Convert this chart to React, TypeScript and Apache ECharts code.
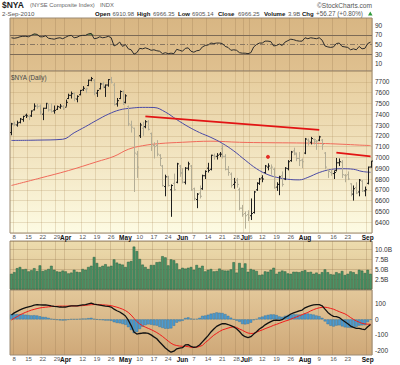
import React, { useEffect, useRef } from 'react';
import * as echarts from 'echarts';

// ---------- dates ----------
const MAR_DAYS = [5, 8, 9, 10, 11, 12, 15, 16, 17, 18, 19, 22, 23, 24, 25, 26, 29, 30, 31];
const APR_DAYS = [1, 5, 6, 7, 8, 9, 12, 13, 14, 15, 16, 19, 20, 21, 22, 23, 26, 27, 28, 29, 30];
const MAY_DAYS = [3, 4, 5, 6, 7, 10, 11, 12, 13, 14, 17, 18, 19, 20, 21, 24, 25, 26, 27, 28];
const JUN_DAYS = [1, 2, 3, 4, 7, 8, 9, 10, 11, 14, 15, 16, 17, 18, 21, 22, 23, 24, 25, 28, 29, 30];
const JUL_DAYS = [1, 2, 6, 7, 8, 9, 12, 13, 14, 15, 16, 19, 20, 21, 22, 23, 26, 27, 28, 29, 30];
const AUG_DAYS = [2, 3, 4, 5, 6, 9, 10, 11, 12, 13, 16, 17, 18, 19, 20, 23, 24, 25, 26, 27, 30, 31];
const SEP_DAYS = [1, 2];

const CATEGORIES: string[] = [
  ...MAR_DAYS.map((d) => 'Mar ' + d),
  ...APR_DAYS.map((d) => 'Apr ' + d),
  ...MAY_DAYS.map((d) => 'May ' + d),
  ...JUN_DAYS.map((d) => 'Jun ' + d),
  ...JUL_DAYS.map((d) => 'Jul ' + d),
  ...AUG_DAYS.map((d) => 'Aug ' + d),
  ...SEP_DAYS.map((d) => 'Sep ' + d),
];

const TICK_DATES = ['Mar 8', 'Mar 15', 'Mar 22', 'Mar 29', 'Apr 1', 'Apr 12', 'Apr 19', 'Apr 26', 'May 3', 'May 10', 'May 17', 'May 24', 'Jun 1', 'Jun 7', 'Jun 14', 'Jun 21', 'Jun 28', 'Jul 1', 'Jul 6', 'Jul 12', 'Jul 19', 'Jul 26', 'Aug 2', 'Aug 9', 'Aug 16', 'Aug 23', 'Sep 1'];
const TICK_TEXT = ['8', '15', '22', '29', 'Apr', '12', '19', '26', 'May', '10', '17', '24', 'Jun', '7', '14', '21', '28', 'Jul', '6', '12', '19', '26', 'Aug', '9', '16', '23', 'Sep'];

// ---------- price (OHLC) ----------
const OPEN = [7230, 7310, 7300, 7325, 7350, 7390, 7380, 7385, 7440, 7475, 7475, 7400, 7455, 7495, 7440, 7430, 7445, 7465, 7470, 7465,
  7545, 7575, 7590, 7540, 7580, 7625, 7630, 7665, 7715, 7715, 7595, 7635, 7680, 7650, 7670, 7720, 7670, 7495, 7545, 7610,
  7510, 7470, 7300, 7270, 7030, 7200, 7270, 7285, 7330, 7220, 7110, 7110, 7020, 6920, 6730, 6820, 6700, 6760, 6770, 6920,
  6850, 6770, 6900, 6920, 6710, 6610, 6670, 6710, 6830, 6900, 6890, 7015, 7010, 7030, 7080, 7010, 6890, 6845, 6750, 6790,
  6700, 6530, 6480, 6470, 6460, 6490, 6700, 6760, 6810, 6860, 6910, 6900, 6890, 6725, 6750, 6830, 6800, 6895, 6970, 7060,
  7030, 6990, 6975, 7040, 7160, 7140, 7165, 7150, 7160, 7160, 7040, 6880, 6860, 6850, 6880, 6950, 6955, 6835, 6840, 6755,
  6660, 6720, 6680, 6780, 6690, 6760, 6911];
const HIGH = [7320, 7330, 7340, 7365, 7385, 7405, 7390, 7435, 7500, 7495, 7490, 7460, 7505, 7495, 7500, 7480, 7480, 7495, 7485, 7535,
  7590, 7610, 7600, 7575, 7625, 7660, 7645, 7720, 7745, 7725, 7625, 7690, 7700, 7675, 7725, 7745, 7690, 7550, 7620, 7620,
  7585, 7480, 7340, 7275, 7060, 7320, 7330, 7345, 7345, 7230, 7140, 7160, 7030, 6930, 6840, 6830, 6750, 6850, 6950, 6930,
  6900, 6910, 6960, 6930, 6720, 6670, 6740, 6840, 6880, 6950, 7025, 7035, 7040, 7050, 7120, 7030, 6920, 6860, 6810, 6810,
  6720, 6560, 6500, 6510, 6620, 6690, 6770, 6810, 6835, 6930, 6945, 6935, 6905, 6770, 6830, 6870, 6910, 6975, 7060, 7090,
  7045, 7050, 6990, 7180, 7175, 7190, 7175, 7160, 7200, 7170, 7050, 6890, 6890, 6880, 6995, 6990, 6975, 6845, 6870, 6760,
  6740, 6770, 6800, 6790, 6730, 6915, 6966];
const LOW = [7205, 7290, 7285, 7315, 7330, 7365, 7345, 7375, 7435, 7450, 7395, 7345, 7450, 7425, 7415, 7405, 7440, 7450, 7440, 7470,
  7540, 7545, 7520, 7510, 7575, 7615, 7595, 7660, 7705, 7575, 7560, 7630, 7640, 7560, 7655, 7685, 7480, 7470, 7540, 7485,
  7500, 7290, 7230, 6680, 6810, 7180, 7200, 7270, 7250, 7060, 6990, 7010, 6920, 6730, 6640, 6730, 6450, 6690, 6760, 6820,
  6760, 6750, 6880, 6690, 6600, 6530, 6620, 6700, 6800, 6860, 6880, 6980, 6980, 7005, 6990, 6880, 6830, 6720, 6710, 6720,
  6510, 6450, 6340, 6410, 6420, 6480, 6690, 6745, 6770, 6850, 6880, 6840, 6710, 6690, 6650, 6730, 6790, 6880, 6960, 7020,
  6965, 6920, 6900, 7030, 7110, 7120, 7120, 7070, 7150, 7070, 6890, 6810, 6830, 6800, 6870, 6920, 6810, 6770, 6790, 6640,
  6600, 6660, 6640, 6680, 6640, 6750, 6905];
const CLOSE = [7310, 7305, 7320, 7355, 7380, 7385, 7380, 7430, 7475, 7470, 7420, 7455, 7500, 7440, 7425, 7435, 7470, 7475, 7450, 7510,
  7575, 7590, 7545, 7565, 7620, 7640, 7635, 7715, 7730, 7600, 7620, 7680, 7660, 7670, 7720, 7695, 7490, 7525, 7610, 7495,
  7570, 7310, 7280, 7040, 6910, 7300, 7280, 7330, 7260, 7120, 7100, 7030, 6990, 6740, 6820, 6740, 6740, 6700, 6940, 6860,
  6770, 6900, 6940, 6700, 6620, 6660, 6640, 6830, 6870, 6880, 7020, 7010, 7020, 7030, 7010, 6890, 6860, 6740, 6770, 6750,
  6530, 6470, 6460, 6440, 6480, 6680, 6760, 6800, 6800, 6920, 6920, 6910, 6720, 6750, 6820, 6750, 6900, 6960, 7050, 7040,
  6990, 6970, 6960, 7170, 7150, 7175, 7165, 7150, 7190, 7120, 6910, 6870, 6850, 6860, 6950, 6960, 6840, 6830, 6800, 6690,
  6710, 6670, 6790, 6690, 6700, 6910, 6966];

// moving averages, read at sample bars
const MA50_AT = [0, 9, 18, 22, 26, 30, 34, 38, 42, 46, 50, 54, 58, 62, 66, 70, 74, 78, 82, 86, 90, 94, 98, 101, 104, 108, 112, 116, 120, 123, 126];
const MA50 = [7157, 7160, 7168, 7228, 7285, 7345, 7400, 7440, 7456, 7463, 7462, 7420, 7350, 7285, 7230, 7185, 7130, 7060, 6975, 6895, 6840, 6810, 6795, 6792, 6815, 6860, 6888, 6895, 6890, 6870, 6862];
const MA200_AT = [0, 10, 20, 30, 36, 41, 46, 52, 60, 70, 80, 90, 100, 108, 116, 122, 126];
const MA200 = [6740, 6808, 6878, 6960, 7010, 7075, 7108, 7128, 7140, 7150, 7140, 7136, 7134, 7130, 7122, 7114, 7110];

// hand-drawn annotations
const TREND_1 = [[47, 7380], [108, 7255]];
const TREND_2 = [[114, 7045], [126, 7010]];
const DOT = [[90, 7005]];

// ---------- indicators ----------
const RSI = [64, 63, 64, 66, 67, 67, 66, 69, 72, 71, 66, 66, 68, 63, 62, 61, 63, 64, 62, 65,
  68, 69, 64, 65, 68, 69, 69, 72, 73, 62, 63, 66, 64, 65, 67, 64, 47, 50, 55, 46,
  50, 41, 39, 30, 33, 42, 41, 43, 41, 38, 39, 37, 36, 31, 33, 31, 32, 31, 40, 38,
  36, 42, 43, 36, 34, 37, 38, 45, 48, 49, 53, 52, 53, 53, 52, 46, 44, 38, 39, 38,
  33, 32, 32, 31, 33, 45, 50, 53, 53, 57, 57, 56, 47, 48, 51, 48, 55, 58, 61, 60,
  58, 57, 57, 64, 62, 64, 63, 62, 64, 59, 47, 45, 44, 45, 52, 53, 46, 45, 44, 39,
  41, 39, 46, 41, 42, 52, 55];
const RSI_LEVELS = [70, 50, 30];

const VOLUME = [3.9, 4.3, 5.3, 5.6, 5.0, 5.1, 4.5, 4.8, 5.3, 4.6, 6.0, 4.6, 4.8, 5.1, 5.9, 4.9, 4.5, 4.4, 4.7,
  4.5, 4.0, 4.2, 4.9, 4.4, 4.3, 5.1, 4.9, 5.6, 5.9, 8.1, 6.6, 5.6, 5.9, 6.3, 5.7, 5.9, 7.5, 6.7, 6.4, 6.2,
  5.6, 6.9, 7.1, 10.7, 9.6, 7.6, 6.2, 5.6, 5.1, 6.1, 6.1, 6.8, 6.9, 8.3, 8.0, 6.0, 7.5, 7.3, 6.5, 5.0,
  5.4, 5.2, 5.4, 5.6, 4.9, 6.1, 5.4, 5.9, 4.5, 4.9, 5.1, 4.5, 4.6, 5.2, 4.8, 4.7, 4.7, 5.0, 6.8, 4.2, 6.6, 5.4,
  6.5, 4.4, 5.1, 4.9, 4.6, 3.6, 3.7, 4.5, 4.4, 4.9, 5.4, 3.9, 4.4, 4.7, 4.5, 4.0, 3.9, 4.4, 4.4, 4.3, 4.6,
  4.8, 4.3, 4.4, 3.9, 4.2, 3.8, 4.3, 5.0, 4.3, 3.8, 3.7, 4.3, 4.0, 4.6, 3.6, 3.9, 4.5, 4.3, 3.8, 4.9, 4.7, 4.1,
  4.9, 3.9];

const MACD = [29, 42, 52, 62, 70, 76, 81, 86, 92, 95, 94, 93, 94, 91, 87, 84, 82, 80, 79, 80,
  84, 88, 88, 88, 91, 94, 96, 101, 105, 99, 95, 92, 89, 86, 84, 80, 66, 56, 48, 36,
  22, -5, -40, -81, -95, -91, -88, -87, -90, -100, -113, -125, -146, -165, -185, -200, -212, -205, -190, -185,
  -183, -165, -163, -175, -180, -177, -165, -145, -125, -105, -81, -62, -45, -35, -27, -28, -33, -40, -48, -60,
  -78, -100, -112, -117, -112, -95, -80, -62, -50, -35, -24, -14, -6, -4, -6, -2, 12, 22, 35, 42,
  48, 55, 60, 75, 83, 89, 94, 95, 96, 88, 66, 45, 30, 20, 18, 12, -2, -15, -28, -43,
  -52, -58, -58, -63, -66, -48, -33];
const SIGNAL = [-4, 8, 18, 29, 38, 46, 53, 60, 65, 70, 74, 77, 79, 81, 83, 84, 85, 86, 86, 86,
  86, 87, 87, 87, 88, 89, 91, 93, 95, 96, 96, 95, 94, 93, 91, 89, 84, 79, 73, 66,
  57, 45, 28, 7, -14, -29, -41, -50, -58, -66, -75, -85, -97, -110, -125, -140, -154, -164, -169, -172,
  -174, -174, -176, -180, -182, -180, -175, -168, -150, -135, -118, -102, -90, -78, -68, -62, -56, -51, -48, -52,
  -62, -70, -80, -88, -91, -90, -82, -75, -68, -60, -53, -46, -38, -32, -25, -18, -11, -6, 2, 9,
  16, 24, 31, 38, 45, 55, 63, 70, 75, 78, 79, 76, 71, 66, 58, 50, 43, 36, 25, 12,
  0, -10, -18, -25, -29, -31, -31];
const HIST = [33, 34, 34, 33, 32, 30, 28, 26, 27, 25, 20, 16, 15, 10, 4, 0, -3, -6, -7, -6,
  -2, 1, 1, 1, 3, 5, 5, 8, 10, 3, -1, -3, -5, -7, -7, -9, -18, -23, -25, -30,
  -35, -50, -68, -88, -81, -62, -47, -37, -32, -34, -38, -40, -49, -55, -60, -60, -58, -41, -21, -13,
  -9, 9, 13, 5, 2, 3, 10, 23, 25, 30, 37, 40, 45, 43, 41, 34, 23, 11, 0, -8,
  -16, -30, -32, -29, -21, -5, 2, 13, 18, 25, 29, 32, 32, 28, 19, 16, 23, 28, 33, 33,
  32, 31, 29, 37, 38, 34, 31, 25, 21, 10, -13, -31, -41, -46, -40, -38, -45, -51, -53, -55,
  -52, -48, -40, -38, -37, -17, -2];

// ---------- axis label sets ----------
const RSI_LABELS = [10, 30, 50, 70, 90];
const PRICE_LABELS = [6400, 6500, 6600, 6700, 6800, 6900, 7000, 7100, 7200, 7300, 7400, 7500, 7600, 7700];
const VOLUME_LABELS = [2.5, 5, 7.5, 10];
const MACD_LABELS = [-200, -100, 0, 100];

const FONT = 'Liberation Sans, Arial, sans-serif';

export default function App() {
  const ref = useRef<HTMLDivElement>(null);

  useEffect(() => {
    if (!ref.current) return;
    const chart = echarts.init(ref.current, undefined, { renderer: 'svg' });

    const grad = (a: string, b: string) =>
      new echarts.graphic.LinearGradient(0, 0, 0, 1, [
        { offset: 0, color: a },
        { offset: 1, color: b },
      ]);

    const tickSet = new Set(TICK_DATES);

    const xAxes = [0, 1, 2, 3].map((k) => ({
      type: 'category',
      gridIndex: k,
      data: CATEGORIES,
      boundaryGap: true,
      axisLine: { show: false },
      axisTick: { show: false },
      axisLabel: {
        show: k === 1 || k === 3,
        interval: (_i: number, v: string) => tickSet.has(v),
        margin: 1,
        formatter: (v: string) => {
          const t = TICK_TEXT[TICK_DATES.indexOf(v)] || '';
          return /^[A-Z]/.test(t) ? '{m|' + t + '}' : '{d|' + t + '}';
        },
        rich: {
          m: { fontFamily: FONT, fontSize: 6.5, fontWeight: 'bold', color: '#111' },
          d: { fontFamily: FONT, fontSize: 6, color: '#555' },
        },
      },
      splitLine: {
        show: true,
        interval: (_i: number, v: string) => tickSet.has(v),
        lineStyle: { color: k === 1 ? 'rgba(170,140,90,0.25)' : 'rgba(150,120,80,0.28)', width: 1 },
      },
    }));

    const yLabel = (allowed: number[], fmt: (v: number) => string) => ({
      show: true,
      fontFamily: FONT,
      fontSize: 6.5,
      color: '#333',
      margin: 3,
      formatter: (v: number) => (allowed.some((a) => Math.abs(a - v) < 1e-6) ? fmt(v) : ''),
    });

    const option: any = {
      animation: false,
      backgroundColor: '#ffffff',
      textStyle: { fontFamily: FONT },
      grid: [
        { left: 10, right: 28, top: 18, height: 53, show: true, backgroundColor: grad('#d8b683', '#dfc08f'), borderColor: '#9c8a72', borderWidth: 1 },
        { left: 10, right: 28, top: 71, height: 162, show: true, backgroundColor: grad('#e6cc9c', '#fdfbe3'), borderColor: '#9c8a72', borderWidth: 1 },
        { left: 10, right: 28, top: 241, height: 48.4, show: true, backgroundColor: grad('#eddcae', '#dcc090'), borderColor: '#9c8a72', borderWidth: 1 },
        { left: 10, right: 28, top: 290, height: 65, show: true, backgroundColor: grad('#e3c89a', '#cfa878'), borderColor: '#9c8a72', borderWidth: 1 },
      ],
      xAxis: xAxes,
      yAxis: [
        {
          type: 'value', gridIndex: 0, position: 'right', min: -5, max: 105, interval: 5,
          axisLine: { show: false }, axisTick: { show: false }, splitLine: { show: false },
          axisLabel: yLabel(RSI_LABELS, (v) => String(v)),
        },
        {
          type: 'value', gridIndex: 1, position: 'right', min: 6300, max: 7800, interval: 100,
          axisLine: { show: false }, axisTick: { show: false },
          splitLine: { show: true, lineStyle: { color: 'rgba(170,140,90,0.25)', width: 1 } },
          axisLabel: yLabel(PRICE_LABELS, (v) => String(v)),
        },
        {
          type: 'value', gridIndex: 2, position: 'right', min: 0, max: 12.1, interval: 2.5,
          axisLine: { show: false }, axisTick: { show: false },
          splitLine: { show: true, lineStyle: { color: 'rgba(150,120,80,0.3)', width: 1 } },
          axisLabel: yLabel(VOLUME_LABELS, (v) => v.toFixed(1) + 'B'),
        },
        {
          type: 'value', gridIndex: 3, position: 'right', min: -230, max: 190, interval: 10,
          axisLine: { show: false }, axisTick: { show: false }, splitLine: { show: false },
          axisLabel: yLabel(MACD_LABELS, (v) => String(v)),
        },
      ],
      series: [
        // RSI overbought shading (stacked above the 70 line)
        {
          type: 'line', xAxisIndex: 0, yAxisIndex: 0, stack: 'ob', silent: true, symbol: 'none',
          data: RSI.map(() => 70), lineStyle: { opacity: 0 },
        },
        {
          type: 'line', xAxisIndex: 0, yAxisIndex: 0, stack: 'ob', silent: true, symbol: 'none',
          data: RSI.map((v) => Math.max(v - 70, 0)), lineStyle: { opacity: 0 },
          areaStyle: { color: '#4e8a3a', opacity: 1 },
        },
        {
          type: 'line', xAxisIndex: 0, yAxisIndex: 0, symbol: 'none', data: RSI, silent: true,
          lineStyle: { color: '#2b2b2b', width: 1 },
          markLine: {
            silent: true, symbol: ['none', 'none'], label: { show: false },
            data: RSI_LEVELS.map((lv) => ({
              yAxis: lv,
              lineStyle: lv === 50
                ? { color: '#8a7862', width: 1, type: [5, 2, 1, 2] }
                : { color: '#7d6b56', width: 1, type: 'solid' },
            })),
          },
          z: 5,
        },
        // price panel
        {
          type: 'line', xAxisIndex: 1, yAxisIndex: 1, symbol: 'none', smooth: 0.4, silent: true,
          data: MA200_AT.map((i, k) => [i, MA200[k]]),
          lineStyle: { color: '#f06a5a', width: 1 },
        },
        {
          type: 'line', xAxisIndex: 1, yAxisIndex: 1, symbol: 'none', smooth: 0.4, silent: true,
          data: MA50_AT.map((i, k) => [i, MA50[k]]),
          lineStyle: { color: '#4a4aa6', width: 1 },
        },
        {
          type: 'custom', xAxisIndex: 1, yAxisIndex: 1, silent: true,
          data: CLOSE.map((c, i) => [i, OPEN[i], HIGH[i], LOW[i], c, i === 0 || c >= CLOSE[i - 1] ? 1 : 0]),
          encode: { x: 0, y: [1, 2, 3, 4] },
          renderItem: (_p: any, api: any) => {
            const i = api.value(0);
            const ph = api.coord([i, api.value(2)]);
            const pl = api.coord([i, api.value(3)]);
            const po = api.coord([i, api.value(1)]);
            const pc = api.coord([i, api.value(4)]);
            const x = Math.round(ph[0]) + 0.5;
            const color = api.value(5) ? '#1e1e1e' : '#b3ad96';
            const st = { stroke: color, lineWidth: 1 };
            return {
              type: 'group',
              children: [
                { type: 'line', shape: { x1: x, y1: ph[1], x2: x, y2: pl[1] }, style: st },
                { type: 'line', shape: { x1: x - 1.5, y1: po[1], x2: x, y2: po[1] }, style: st },
                { type: 'line', shape: { x1: x, y1: pc[1], x2: x + 1.5, y2: pc[1] }, style: st },
              ],
            };
          },
          z: 4,
        },
        {
          type: 'line', xAxisIndex: 1, yAxisIndex: 1, symbol: 'none', silent: true, data: TREND_1,
          lineStyle: { color: '#e21414', width: 1.8 }, z: 6,
        },
        {
          type: 'line', xAxisIndex: 1, yAxisIndex: 1, symbol: 'none', silent: true, data: TREND_2,
          lineStyle: { color: '#e21414', width: 1.8 }, z: 6,
        },
        {
          type: 'scatter', xAxisIndex: 1, yAxisIndex: 1, symbolSize: 4, silent: true, data: DOT,
          itemStyle: { color: '#e20000' }, z: 6,
        },
        // volume
        {
          type: 'bar', xAxisIndex: 2, yAxisIndex: 2, data: VOLUME, barCategoryGap: '8%', silent: true,
          itemStyle: { color: '#4a9467', borderColor: '#2b5d3e', borderWidth: 0.5 },
        },
        // MACD
        {
          type: 'bar', xAxisIndex: 3, yAxisIndex: 3, data: HIST, barCategoryGap: '8%', silent: true,
          itemStyle: { color: '#4d9cd2', borderColor: '#2b6c99', borderWidth: 0.4 },
        },
        {
          type: 'line', xAxisIndex: 3, yAxisIndex: 3, symbol: 'none', data: SIGNAL, silent: true,
          lineStyle: { color: '#f21c1c', width: 1 },
        },
        {
          type: 'line', xAxisIndex: 3, yAxisIndex: 3, symbol: 'none', data: MACD, silent: true,
          lineStyle: { color: '#111111', width: 1.3 },
        },
      ],
      graphic: [
        { type: 'text', x: 2, y: 5, style: { text: '$NYA', fontFamily: FONT, fontSize: 8.5, fontWeight: 'bold', fill: '#222', verticalAlign: 'middle' } },
        { type: 'text', x: 30, y: 5, style: { text: '(NYSE Composite Index)', fontFamily: FONT, fontSize: 5.8, fill: '#666', verticalAlign: 'middle' } },
        { type: 'text', x: 100, y: 5, style: { text: 'INDX', fontFamily: FONT, fontSize: 5.8, fill: '#666', verticalAlign: 'middle' } },
        { type: 'text', x: 372, y: 5, style: { text: '©StockCharts.com', fontFamily: FONT, fontSize: 6.6, fill: '#555', align: 'right', verticalAlign: 'middle' } },
        { type: 'text', x: 2, y: 13.5, style: { text: '2-Sep-2010', fontFamily: FONT, fontSize: 6.2, fill: '#555', verticalAlign: 'middle' } },
        { type: 'text', x: 95, y: 13.5, style: { text: 'Open', fontFamily: FONT, fontSize: 6, fontWeight: 'bold', fill: '#111', verticalAlign: 'middle' } },
        { type: 'text', x: 112.5, y: 13.5, style: { text: '6910.98', fontFamily: FONT, fontSize: 6, fill: '#555', verticalAlign: 'middle' } },
        { type: 'text', x: 137, y: 13.5, style: { text: 'High', fontFamily: FONT, fontSize: 6, fontWeight: 'bold', fill: '#111', verticalAlign: 'middle' } },
        { type: 'text', x: 153, y: 13.5, style: { text: '6966.35', fontFamily: FONT, fontSize: 6, fill: '#555', verticalAlign: 'middle' } },
        { type: 'text', x: 178, y: 13.5, style: { text: 'Low', fontFamily: FONT, fontSize: 6, fontWeight: 'bold', fill: '#111', verticalAlign: 'middle' } },
        { type: 'text', x: 192, y: 13.5, style: { text: '6905.14', fontFamily: FONT, fontSize: 6, fill: '#555', verticalAlign: 'middle' } },
        { type: 'text', x: 218, y: 13.5, style: { text: 'Close', fontFamily: FONT, fontSize: 6, fontWeight: 'bold', fill: '#111', verticalAlign: 'middle' } },
        { type: 'text', x: 238, y: 13.5, style: { text: '6966.25', fontFamily: FONT, fontSize: 6, fill: '#555', verticalAlign: 'middle' } },
        { type: 'text', x: 264, y: 13.5, style: { text: 'Volume', fontFamily: FONT, fontSize: 6, fontWeight: 'bold', fill: '#111', verticalAlign: 'middle' } },
        { type: 'text', x: 288, y: 13.5, style: { text: '3.9B', fontFamily: FONT, fontSize: 6, fill: '#555', verticalAlign: 'middle' } },
        { type: 'text', x: 302, y: 13.5, style: { text: 'Chg', fontFamily: FONT, fontSize: 6, fontWeight: 'bold', fill: '#111', verticalAlign: 'middle' } },
        { type: 'text', x: 316, y: 13.5, style: { text: '+56.27 (+0.80%)', fontFamily: FONT, fontSize: 6.3, fill: '#555', verticalAlign: 'middle' } },
        { type: 'polygon', shape: { points: [[368, 15.5], [372.5, 15.5], [370.25, 11.5]] }, style: { fill: '#2f9a3a' } },
        { type: 'text', x: 11, y: 77.5, z: 10, style: { text: '$NYA (Daily)', fontFamily: FONT, fontSize: 6.3, fill: '#444', verticalAlign: 'middle' } },
      ],
    };

    chart.setOption(option);
    return () => chart.dispose();
  }, []);

  return (
    <div
      ref={ref}
      style={{ position: 'fixed', left: 0, top: 0, width: 400, height: 365, background: '#fff' }}
    />
  );
}
